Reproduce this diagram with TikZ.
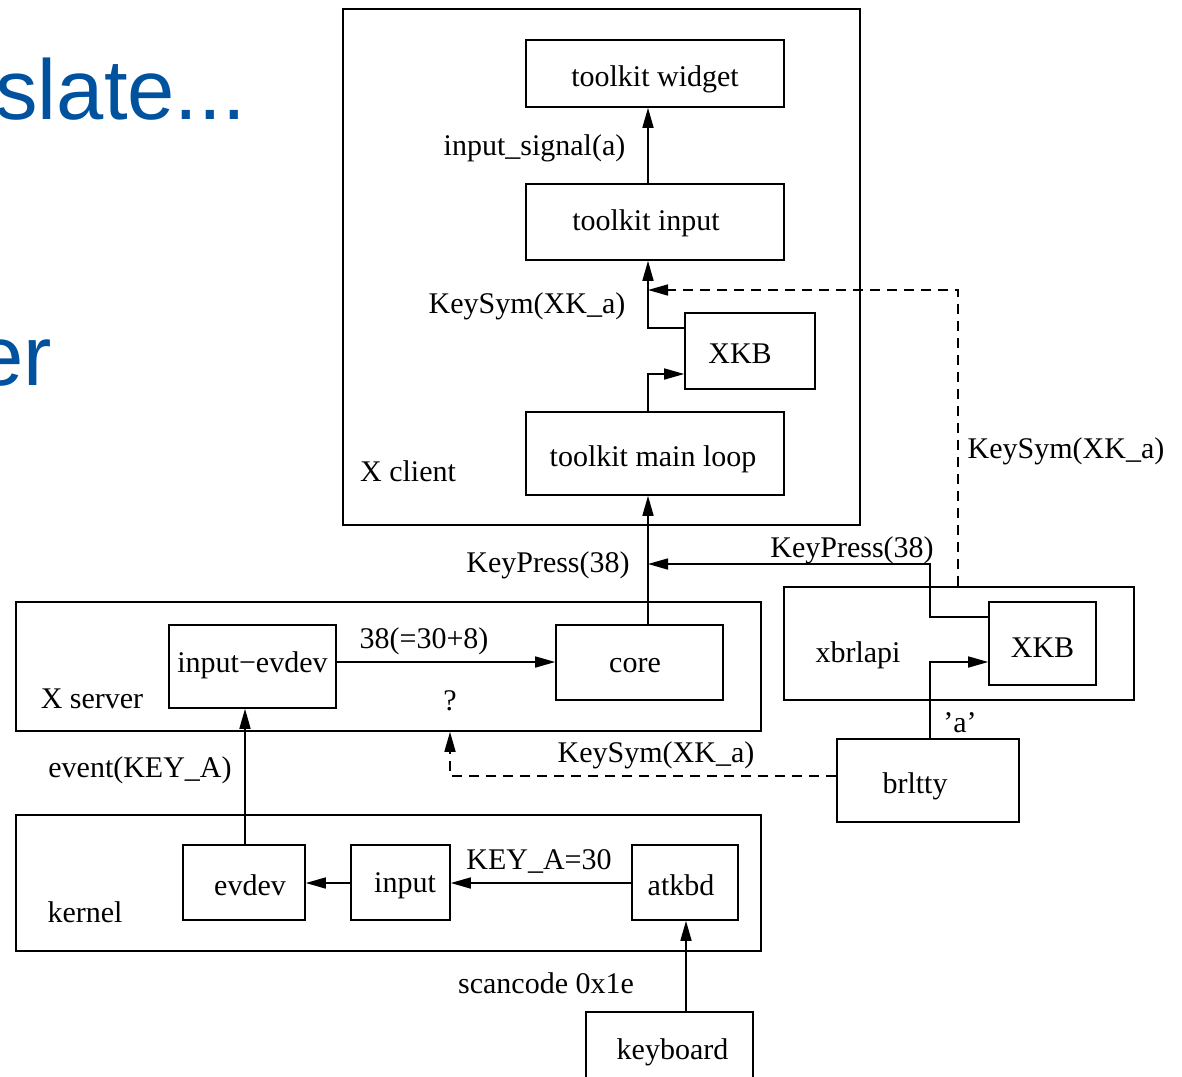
\documentclass[tikz,border=0pt]{standalone}
\usepackage{fontspec}
\setmainfont{Liberation Serif}
\newfontfamily\slidefont{Liberation Sans}
\usetikzlibrary{arrows.meta}
\definecolor{slideblue}{RGB}{0,82,158}

\begin{document}
\begin{tikzpicture}[x=1pt,y=-1pt,
  box/.style={draw, line width=1.6pt, inner sep=0pt, text height=28pt, text depth=3pt,
    font=\fontsize{30}{36}\selectfont},
  frame/.style={draw, line width=1.6pt, inner sep=0pt},
  lbl/.style={inner sep=0pt, font=\fontsize{30}{36}\selectfont},
  flow/.style={line width=1.6pt, -{Triangle[length=20pt,width=11pt]}},
  hint/.style={flow, dash pattern=on 10pt off 7pt},
  big/.style={inner sep=0pt, text=slideblue, font=\slidefont\fontsize{85}{100}\selectfont}]
\useasboundingbox (0,0) rectangle (1182,1076);

% slide text behind the figure
\node[big, anchor=base east] (slate) at (246,119) {slate...};
\node[big, anchor=base east] (er) at (52,385) {er};

% X client
\node[frame, minimum width=517pt, minimum height=516pt] (xclient) at (601.5,267) {};
\node[box, minimum width=258pt, minimum height=67pt] (widget) at (655,73.5) {toolkit widget};
\node[box, minimum width=258pt, minimum height=76pt, text depth=12pt] (tinput) at (655,222) {\kern-18pt toolkit input};
\node[box, minimum width=130pt, minimum height=76pt] (xkbc) at (750,351) {XKB\kern20pt};
\node[box, minimum width=258pt, minimum height=83pt] (tmain) at (655,453.5) {toolkit main loop\kern4pt};
\node[lbl] (xclientlbl) at (408,471) {X client};

% X server
\node[frame, minimum width=745pt, minimum height=129pt] (xserver) at (388.5,666.5) {};
\node[box, minimum width=167pt, minimum height=83pt, text depth=17pt] (ievdev) at (252.5,666.5) {input−evdev};
\node[box, minimum width=167pt, minimum height=75pt, text depth=9pt] (core) at (639.5,662.5) {core\kern9pt};
\node[lbl] (xserverlbl) at (92,699) {X server};

% xbrlapi and brltty
\node[frame, minimum width=350pt, minimum height=113pt] (xbrl) at (959,643.5) {};
\node[box, minimum width=107pt, minimum height=83pt, text height=31pt] (xkbb) at (1042.5,643.5) {XKB};
\node[lbl] (xbrllbl) at (858,655) {xbrlapi};
\node[box, minimum width=182pt, minimum height=83pt] (brltty) at (928,780.5) {brltty\kern26pt};

% kernel
\node[frame, minimum width=745pt, minimum height=136pt] (kernel) at (388.5,883) {};
\node[box, minimum width=122pt, minimum height=75pt] (evdev) at (244,882.5) {\kern12pt evdev};
\node[box, minimum width=99pt, minimum height=75pt, text depth=9pt] (input) at (400.5,882.5) {\kern9pt input};
\node[box, minimum width=106pt, minimum height=75pt] (atkbd) at (685,882.5) {atkbd\kern8pt};
\node[lbl] (kernellbl) at (85,912) {kernel};
\node[box, minimum width=167pt, minimum height=78pt, text depth=12pt] (keyboard) at (669.5,1051) {\kern6pt keyboard};

% reference columns and rows for the connectors
\coordinate (col) at (648,0);
\coordinate (dcol) at (958,0);
\coordinate (acol) at (930,0);
\coordinate (qcol) at (450,0);
\coordinate (ecol) at (245,0);
\coordinate (kcol) at (686,0);
\coordinate (yks) at (0,328);
\coordinate (yml) at (0,374);
\coordinate (ydash) at (0,290);
\coordinate (ykp) at (0,617);
\coordinate (kp) at (930,564);
\coordinate (ya) at (0,662);
\coordinate (yc) at (0,662);
\coordinate (yd) at (0,776);
\coordinate (yk) at (0,883);

% connectors
\draw[flow] (tinput.north -| col) -- (widget.south -| col);
\draw[flow] (xkbc.west |- yks) -| (tinput.south -| col);
\draw[flow] (tmain.north -| col) |- (xkbc.west |- yml);
\draw[hint] (xbrl.north -| dcol) |- (col |- ydash);
\draw[flow] (core.north -| col) -- (tmain.south -| col);
\draw[flow] (xkbb.west |- ykp) -| (kp) -- (col |- kp);
\draw[flow] (brltty.north -| acol) |- (xkbb.west |- ya);
\draw[flow] (ievdev.east |- yc) -- (core.west |- yc);
\draw[hint] (brltty.west |- yd) -| (xserver.south -| qcol);
\draw[flow] (evdev.north -| ecol) -- (ievdev.south -| ecol);
\draw[flow] (input.west |- yk) -- (evdev.east |- yk);
\draw[flow] (atkbd.west |- yk) -- (input.east |- yk);
\draw[flow] (keyboard.north -| kcol) -- (atkbd.south -| kcol);

% connector labels
\node[lbl] (l1) at (534.5,148) {input\_signal(a)};
\node[lbl] (l2) at (527,306) {KeySym(XK\_a)};
\node[lbl] (l3) at (548,565) {KeyPress(38)};
\node[lbl] (l4) at (852,550) {KeyPress(38)};
\node[lbl] (l5) at (1066,451) {KeySym(XK\_a)};
\node[lbl] (l6) at (960,723) {’a’};
\node[lbl] (l7) at (424,641) {38(=30+8)};
\node[lbl] (l8) at (450,701) {?};
\node[lbl] (l9) at (656,755) {KeySym(XK\_a)};
\node[lbl] (l10) at (140,770) {event(KEY\_A)};
\node[lbl] (l11) at (539,861) {KEY\_A=30};
\node[lbl] (l12) at (546,983) {scancode 0x1e};
\end{tikzpicture}
\end{document}
